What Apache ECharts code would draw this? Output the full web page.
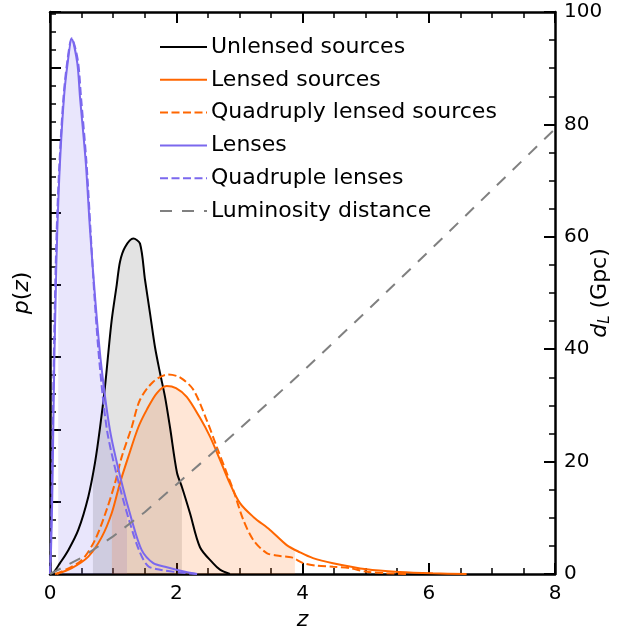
<!DOCTYPE html>
<html>
<head>
<meta charset="utf-8">
<script src="https://cdn.jsdelivr.net/npm/echarts@6/dist/echarts.min.js"></script>
<style>
html,body{margin:0;padding:0;background:#fff;}
#chart{width:637px;height:630px;}
</style>
</head>
<body>
<div id="chart"></div>
<script>
// ---- data (z, p(z) in arbitrary units; dL in Gpc) ----
const zUnlensed = [0, 0.048, 0.158, 0.290, 0.448, 0.607, 0.713, 0.792, 0.871, 0.924, 0.977, 1.057, 1.109, 1.188, 1.320, 1.426, 1.505, 1.584, 1.663, 1.743, 1.822, 1.901, 2.012, 2.091, 2.218, 2.376, 2.582, 2.693, 2.85];
const pUnlensed = [0, 0.01, 0.15, 0.33, 0.61, 1.07, 1.54, 2.02, 2.59, 3.06, 3.51, 4.00, 4.32, 4.52, 4.64, 4.57, 4.07, 3.61, 3.14, 2.78, 2.45, 2.03, 1.40, 1.20, 0.84, 0.37, 0.15, 0.06, 0];

const zLensed = [0.106, 0.344, 0.607, 0.819, 0.977, 1.109, 1.240, 1.399, 1.532, 1.690, 1.849, 1.996, 2.166, 2.376, 2.535, 2.693, 2.825, 3.010, 3.221, 3.485, 3.750, 3.960, 4.166, 4.483, 5.017, 5.545, 6.067, 6.6];
const pLensed = [0, 0.08, 0.24, 0.51, 0.84, 1.26, 1.62, 2.03, 2.27, 2.50, 2.60, 2.57, 2.45, 2.16, 1.90, 1.58, 1.30, 0.98, 0.79, 0.61, 0.40, 0.30, 0.22, 0.15, 0.065, 0.028, 0.01, 0];

const zQuadSrc = [0.079, 0.238, 0.502, 0.713, 0.898, 1.030, 1.136, 1.294, 1.426, 1.636, 1.869, 2.059, 2.270, 2.482, 2.641, 2.799, 2.904, 3.062, 3.221, 3.433, 3.644, 3.829, 4.013, 4.225, 4.483, 4.752, 5.017, 5.334, 5.65];
const pQuadSrc = [0, 0.055, 0.19, 0.47, 0.89, 1.26, 1.62, 2.03, 2.41, 2.66, 2.76, 2.72, 2.55, 2.13, 1.76, 1.40, 1.16, 0.75, 0.47, 0.29, 0.25, 0.23, 0.15, 0.115, 0.10, 0.08, 0.03, 0.01, 0];

const zLenses = [0, 0.016, 0.036, 0.052, 0.068, 0.090, 0.116, 0.158, 0.222, 0.280, 0.344, 0.432, 0.475, 0.567, 0.634, 0.713, 0.808, 0.950, 1.125, 1.294, 1.453, 1.636, 1.822, 2.139, 2.33];
const pLenses = [0, 0.33, 1.07, 1.99, 2.92, 3.84, 4.76, 5.69, 6.60, 7.07, 7.40, 7.07, 6.60, 5.69, 4.76, 3.84, 2.92, 1.99, 1.30, 0.75, 0.33, 0.15, 0.10, 0.03, 0];

const zQuadLens = [0, 0.008, 0.027, 0.043, 0.059, 0.079, 0.106, 0.150, 0.214, 0.277, 0.344, 0.440, 0.491, 0.578, 0.642, 0.705, 0.784, 0.903, 1.077, 1.251, 1.410, 1.552, 1.743, 2.059, 2.33];
const pQuadLens = [0, 0.19, 1.07, 1.99, 2.92, 3.83, 4.76, 5.69, 6.60, 7.11, 7.41, 7.11, 6.60, 5.69, 4.76, 3.83, 2.92, 1.99, 1.30, 0.75, 0.33, 0.11, 0.06, 0.02, 0];

const zDist = [0, 0.5, 1, 1.5, 2, 2.5, 3, 4, 5, 6, 7, 8];
const dDist = [0, 2.9, 6.7, 11.0, 15.9, 20.8, 25.8, 36.0, 46.6, 57.4, 68.3, 79.2];

// shaded credible ranges (z)
const rangeLenses = [0.13, 1.22];
const rangeUnlensed = [0.68, 2.09];
const rangeLensed = [0.98, 3.88];

const xTicks = [0, 2, 4, 6, 8];
const dTicks = [0, 20, 40, 60, 80, 100];

// ---- helpers ----
function pairs(zs, ps) { return zs.map((z, i) => [z, ps[i]]); }
function interp(zs, ps, z) {
  for (let i = 0; i < zs.length - 1; i++) {
    if (z >= zs[i] && z <= zs[i + 1]) {
      const t = (z - zs[i]) / (zs[i + 1] - zs[i]);
      return ps[i] + t * (ps[i + 1] - ps[i]);
    }
  }
  return 0;
}
function slice(zs, ps, r) {
  const out = [[r[0], interp(zs, ps, r[0])]];
  zs.forEach((z, i) => { if (z > r[0] && z < r[1]) out.push([z, ps[i]]); });
  out.push([r[1], interp(zs, ps, r[1])]);
  return out;
}

const FONT = 'DejaVu Sans';
const BLACK = '#000000', ORANGE = '#ff6600', PURPLE = '#7b68ee', GREY = '#808080';
const SM = 0.3;

function lineSeries(name, data, color, dashed, yIdx, smooth) {
  return {
    name: name, type: 'line', data: data, xAxisIndex: 0, yAxisIndex: yIdx || 0,
    showSymbol: false, symbol: 'none', smooth: smooth === undefined ? SM : smooth, z: 5,
    lineStyle: { color: color, width: 2, type: dashed || 'solid' },
    itemStyle: { color: color }
  };
}
function fillSeries(name, data, rgba) {
  return {
    name: name, type: 'line', data: data, showSymbol: false, symbol: 'none',
    smooth: SM, z: 1, silent: true,
    lineStyle: { width: 0, opacity: 0 }, areaStyle: { color: rgba, opacity: 1 },
    itemStyle: { color: rgba }
  };
}

const chart = echarts.init(document.getElementById('chart'), null, { renderer: 'canvas' });

const axisLineStyle = { color: BLACK, width: 2.5 };
const option = {
  animation: false,
  backgroundColor: '#ffffff',
  grid: { left: 50, right: 82, top: 12, bottom: 56, containLabel: false, outerBoundsMode: 'none' },
  legend: {
    data: ['Unlensed sources', 'Lensed sources', 'Quadruply lensed sources', 'Lenses', 'Quadruple lenses', 'Luminosity distance'],
    orient: 'vertical', left: 159, top: 35, padding: 0,
    itemWidth: 47, itemHeight: 14, itemGap: 8.8, selectedMode: false,
    itemStyle: { opacity: 0 },
    textStyle: { fontFamily: FONT, fontSize: 22, color: BLACK, lineHeight: 24, padding: [0, 0, 0, -1] }
  },
  xAxis: [
    {
      type: 'value', position: 'bottom', min: 0, max: 8, interval: 2,
      name: 'z', nameLocation: 'middle', nameGap: 35, nameMoveOverlap: false,
      nameTextStyle: { fontFamily: FONT, fontSize: 22, fontStyle: 'italic', color: BLACK },
      axisLine: { show: true, onZero: false, lineStyle: axisLineStyle },
      axisTick: { show: true, inside: true, length: 11, lineStyle: { color: BLACK, width: 2 } },
      minorTick: { show: true, splitNumber: 4, length: 6, lineStyle: { color: BLACK, width: 1.5 } },
      axisLabel: { show: true, fontFamily: FONT, fontSize: 20, color: BLACK, margin: 10,
        formatter: v => (xTicks.indexOf(v) >= 0 ? String(v) : '') },
      splitLine: { show: false }, minorSplitLine: { show: false }
    },
    {
      type: 'value', position: 'top', min: 0, max: 8, interval: 2,
      axisLine: { show: true, onZero: false, lineStyle: axisLineStyle },
      axisTick: { show: true, inside: true, length: 11, lineStyle: { color: BLACK, width: 2 } },
      minorTick: { show: true, splitNumber: 4, length: 6, lineStyle: { color: BLACK, width: 1.5 } },
      axisLabel: { show: false }, splitLine: { show: false }, minorSplitLine: { show: false }
    }
  ],
  yAxis: [
    {
      type: 'value', position: 'left', min: 0, max: 7.774, interval: 1,
      name: '{i|p}({i|z})', nameLocation: 'middle', nameGap: 17, nameRotate: 90, nameMoveOverlap: false,
      nameTextStyle: { fontFamily: FONT, fontSize: 22, color: BLACK,
        rich: { i: { fontFamily: FONT, fontSize: 22, fontStyle: 'italic', color: BLACK } } },
      axisLine: { show: true, onZero: false, lineStyle: axisLineStyle },
      axisTick: { show: true, inside: true, length: 11, lineStyle: { color: BLACK, width: 2 } },
      axisLabel: { show: false }, splitLine: { show: false }
    },
    {
      type: 'value', position: 'left', min: 0, max: 7.774, interval: 0.25,
      axisLine: { show: false },
      axisTick: { show: true, inside: true, length: 6, lineStyle: { color: BLACK, width: 1.5 } },
      axisLabel: { show: false }, splitLine: { show: false }
    },
    {
      type: 'value', position: 'right', min: 0, max: 100, interval: 20,
      name: '{i|d}{s|L} (Gpc)', nameLocation: 'middle', nameGap: 32, nameRotate: 90, nameMoveOverlap: false,
      nameTextStyle: { fontFamily: FONT, fontSize: 22, color: BLACK, lineHeight: 26,
        rich: {
          i: { fontFamily: FONT, fontSize: 22, fontStyle: 'italic', color: BLACK, lineHeight: 26 },
          s: { fontFamily: FONT, fontSize: 15, fontStyle: 'italic', color: BLACK, verticalAlign: 'bottom' }
        } },
      axisLine: { show: true, onZero: false, lineStyle: axisLineStyle },
      axisTick: { show: true, inside: true, length: 11, lineStyle: { color: BLACK, width: 2 } },
      minorTick: { show: true, splitNumber: 4, length: 6, lineStyle: { color: BLACK, width: 1.5 } },
      axisLabel: { show: true, fontFamily: FONT, fontSize: 20, color: BLACK, margin: 9,
        formatter: v => (dTicks.indexOf(v) >= 0 ? String(v) : '') },
      splitLine: { show: false }, minorSplitLine: { show: false }
    }
  ],
  series: [
    fillSeries('fill-lenses', slice(zLenses, pLenses, rangeLenses), 'rgba(123,104,238,0.17)'),
    fillSeries('fill-unlensed', slice(zUnlensed, pUnlensed, rangeUnlensed), 'rgba(0,0,0,0.11)'),
    fillSeries('fill-lensed', slice(zLensed, pLensed, rangeLensed), 'rgba(255,102,0,0.16)'),
    lineSeries('Unlensed sources', pairs(zUnlensed, pUnlensed), BLACK),
    lineSeries('Lensed sources', pairs(zLensed, pLensed), ORANGE),
    lineSeries('Quadruply lensed sources', pairs(zQuadSrc, pQuadSrc), ORANGE, [8, 3.5]),
    lineSeries('Lenses', pairs(zLenses, pLenses), PURPLE),
    lineSeries('Quadruple lenses', pairs(zQuadLens, pQuadLens), PURPLE, [8, 3.5]),
    lineSeries('Luminosity distance', pairs(zDist, dDist), GREY, [12, 10], 2, false)
  ]
};
chart.setOption(option);
</script>
</body>
</html>
